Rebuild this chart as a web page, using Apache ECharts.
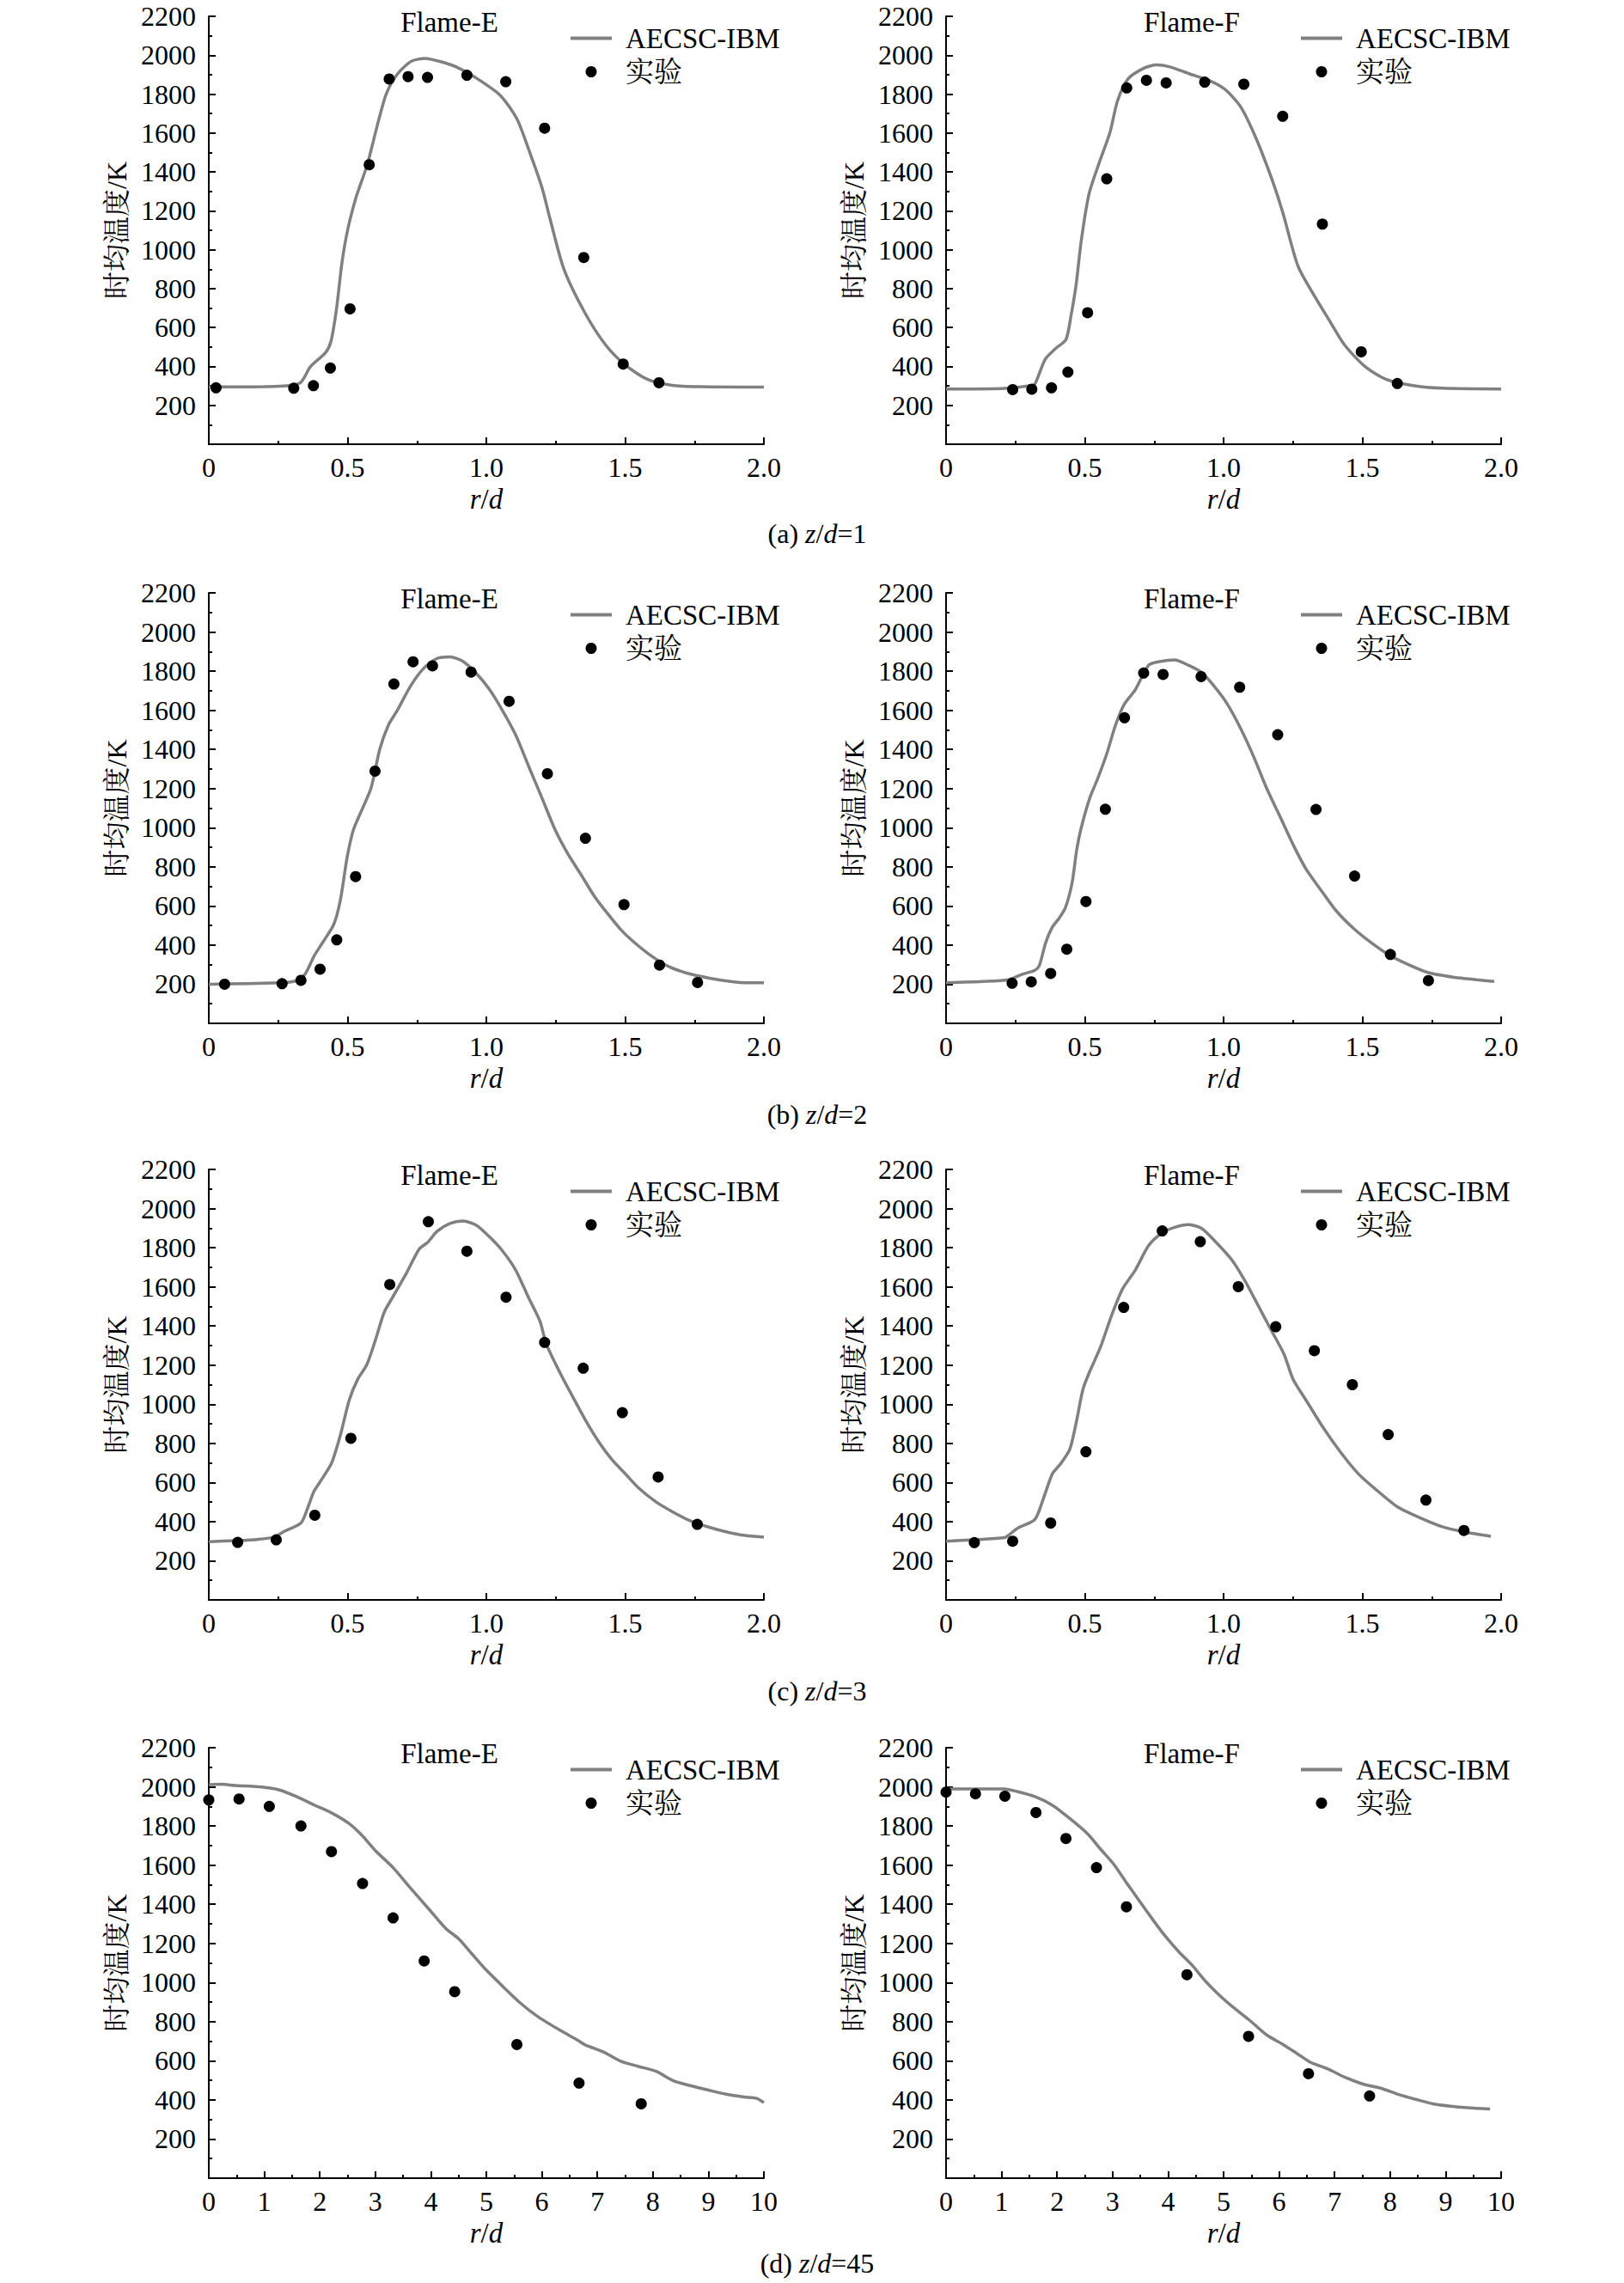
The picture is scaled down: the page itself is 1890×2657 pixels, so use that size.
<!DOCTYPE html>
<html>
<head>
<meta charset="utf-8">
<script src="https://cdn.jsdelivr.net/npm/echarts@6/dist/echarts.min.js"></script>
<style>
html,body{margin:0;padding:0;background:#fff}
#main{width:1890px;height:2657px}
</style>
</head>
<body>
<div id="main"></div>
<script>
// (a) z/d=1
var simAE = [[0,295],[0.1,295],[0.2,296],[0.28,300],[0.33,316],[0.367,400],[0.42,470],[0.44,528],[0.46,695],[0.48,935],[0.5,1100],[0.53,1267],[0.57,1433],[0.61,1655],[0.64,1803],[0.68,1904],[0.73,1969],[0.78,1984],[0.83,1969],[0.89,1941],[0.96,1886],[1.05,1794],[1.11,1673],[1.15,1526],[1.2,1322],[1.23,1156],[1.28,898],[1.355,676],[1.43,510],[1.5,408],[1.58,334],[1.67,303],[1.77,296],[2.0,294]];
var expAE = [[0.026,290],[0.306,288],[0.377,301],[0.438,392],[0.509,696],[0.578,1437],[0.65,1878],[0.718,1890],[0.788,1886],[0.93,1897],[1.07,1864],[1.21,1625],[1.351,960],[1.493,412],[1.622,316]];
var simAF = [[0,284],[0.2,286],[0.3,300],[0.32,310],[0.357,436],[0.394,491],[0.432,538],[0.45,658],[0.469,824],[0.487,1045],[0.515,1286],[0.553,1452],[0.59,1600],[0.618,1766],[0.655,1877],[0.711,1932],[0.757,1950],[0.804,1941],[0.878,1904],[0.953,1867],[1.008,1821],[1.064,1729],[1.12,1563],[1.175,1359],[1.213,1193],[1.268,916],[1.325,768],[1.38,639],[1.436,510],[1.51,399],[1.585,334],[1.678,303],[1.79,288],[2.0,284]];
var expAF = [[0.24,281],[0.309,283],[0.38,290],[0.439,371],[0.51,676],[0.579,1365],[0.651,1832],[0.722,1871],[0.793,1858],[0.932,1862],[1.073,1851],[1.213,1686],[1.356,1132],[1.496,475],[1.626,312]];
// (b) z/d=2
var simBE = [[0,200],[0.253,207],[0.316,218],[0.348,254],[0.379,343],[0.411,415],[0.45,505],[0.474,630],[0.498,845],[0.521,989],[0.553,1096],[0.585,1204],[0.616,1401],[0.648,1527],[0.679,1599],[0.727,1724],[0.774,1814],[0.821,1864],[0.869,1873],[0.916,1850],[0.964,1788],[1.011,1707],[1.058,1599],[1.106,1473],[1.153,1312],[1.201,1150],[1.248,989],[1.295,863],[1.343,756],[1.39,648],[1.438,559],[1.485,478],[1.532,415],[1.596,343],[1.659,289],[1.722,257],[1.801,232],[1.88,214],[1.943,207],[2.0,207]];
var expBE = [[0.057,200],[0.264,203],[0.332,220],[0.401,277],[0.461,427],[0.529,750],[0.599,1289],[0.667,1734],[0.736,1848],[0.806,1827],[0.945,1795],[1.082,1646],[1.22,1276],[1.357,946],[1.496,607],[1.624,298],[1.761,209]];
var simBF = [[0,208],[0.131,214],[0.225,223],[0.273,250],[0.32,271],[0.336,295],[0.359,412],[0.383,492],[0.407,537],[0.43,591],[0.454,717],[0.47,879],[0.485,987],[0.517,1148],[0.548,1256],[0.58,1382],[0.611,1526],[0.643,1633],[0.682,1705],[0.73,1831],[0.769,1849],[0.824,1858],[0.872,1831],[0.919,1795],[0.966,1723],[1.013,1633],[1.061,1508],[1.108,1364],[1.155,1202],[1.203,1058],[1.25,915],[1.297,789],[1.36,663],[1.407,573],[1.47,483],[1.533,411],[1.597,349],[1.66,304],[1.738,259],[1.833,235],[1.912,223],[1.975,214]];
var expBF = [[0.238,205],[0.307,212],[0.377,255],[0.435,379],[0.504,623],[0.574,1094],[0.643,1562],[0.712,1790],[0.782,1783],[0.919,1772],[1.058,1718],[1.195,1475],[1.333,1093],[1.472,753],[1.601,352],[1.738,219]];
// (c) z/d=3
var simCE = [[0,298],[0.095,303],[0.174,309],[0.237,321],[0.269,348],[0.332,393],[0.355,465],[0.379,555],[0.403,608],[0.442,698],[0.474,842],[0.506,1021],[0.537,1129],[0.569,1201],[0.6,1326],[0.632,1470],[0.664,1551],[0.711,1667],[0.758,1793],[0.79,1829],[0.822,1883],[0.869,1924],[0.916,1936],[0.964,1915],[1.011,1856],[1.058,1784],[1.106,1685],[1.153,1542],[1.193,1425],[1.216,1308],[1.264,1165],[1.311,1039],[1.359,914],[1.406,806],[1.453,716],[1.501,644],[1.548,573],[1.611,501],[1.675,447],[1.738,402],[1.801,372],[1.864,348],[1.927,330],[2.0,321]];
var expCE = [[0.104,294],[0.243,307],[0.382,433],[0.512,826],[0.652,1612],[0.791,1933],[0.93,1782],[1.071,1547],[1.21,1316],[1.349,1184],[1.49,957],[1.619,628],[1.76,386]];
var simCF = [[0,300],[0.099,307],[0.21,318],[0.225,330],[0.257,366],[0.32,411],[0.351,519],[0.383,644],[0.414,698],[0.446,770],[0.47,913],[0.493,1075],[0.517,1165],[0.556,1290],[0.596,1452],[0.635,1587],[0.682,1686],[0.73,1811],[0.777,1874],[0.824,1904],[0.872,1918],[0.919,1900],[0.966,1838],[1.029,1739],[1.077,1631],[1.124,1506],[1.171,1380],[1.218,1255],[1.25,1129],[1.297,1021],[1.36,878],[1.423,752],[1.486,644],[1.549,564],[1.628,474],[1.707,420],[1.786,375],[1.864,348],[1.963,325]];
var expCF = [[0.102,293],[0.24,300],[0.377,393],[0.504,757],[0.64,1495],[0.779,1886],[0.916,1831],[1.053,1601],[1.188,1396],[1.327,1274],[1.464,1100],[1.593,845],[1.729,510],[1.866,355]];
// (d) z/d=45
var simDE = [[0,2011],[0.24,2013],[0.47,2007],[0.95,1999],[1.26,1985],[1.58,1950],[1.9,1907],[2.21,1867],[2.53,1812],[2.76,1752],[3.0,1674],[3.32,1587],[3.63,1484],[3.95,1380],[4.27,1276],[4.5,1224],[4.74,1146],[4.98,1069],[5.29,982],[5.61,896],[5.92,827],[6.32,757],[6.64,706],[6.79,680],[7.11,645],[7.42,598],[7.74,571],[8.06,546],[8.37,498],[8.69,472],[9.0,450],[9.32,429],[9.64,415],[9.87,408],[10,386]];
var expDE = [[0,1933],[0.545,1938],[1.09,1900],[1.66,1800],[2.21,1669],[2.77,1506],[3.32,1330],[3.88,1110],[4.43,953],[5.55,683],[6.67,486],[7.79,380]];
var simDF = [[0,1989],[0.5,1989],[1.05,1989],[1.28,1976],[1.6,1950],[1.91,1907],[2.23,1838],[2.55,1760],[2.78,1683],[3.02,1605],[3.25,1510],[3.49,1414],[3.73,1319],[3.96,1233],[4.2,1155],[4.44,1086],[4.67,1008],[4.91,939],[5.15,879],[5.46,809],[5.78,731],[6.09,680],[6.33,636],[6.56,593],[6.88,558],[7.19,515],[7.51,481],[7.83,460],[8.14,429],[8.46,403],[8.77,380],[9.09,368],[9.4,360],[9.8,353]];
var expDF = [[0,1973],[0.53,1964],[1.06,1952],[1.62,1869],[2.16,1736],[2.71,1587],[3.25,1387],[4.34,1040],[5.45,725],[6.53,534],[7.63,420]];

var captions = ['(a) {i|z}/{i|d}=1', '(b) {i|z}/{i|d}=2', '(c) {i|z}/{i|d}=3', '(d) {i|z}/{i|d}=45'];
var flames = ['Flame-E', 'Flame-F'];
var xMax = [2, 2, 2, 10];
var xStep = [0.5, 0.5, 0.5, 1];
var simData = [[simAE, simAF], [simBE, simBF], [simCE, simCF], [simDE, simDF]];
var expData = [[expAE, expAF], [expBE, expBF], [expCE, expCF], [expDE, expDF]];
var yName = '时均温度/K';
var simName = 'AECSC-IBM';
var expName = '实验';

var serif = "'Liberation Serif','Times New Roman',serif";
var cjk = "'Liberation Serif','Noto Serif CJK SC','Noto Sans CJK SC',serif";
var gridLeft = [243, 1101];
var gridTop = [19, 690, 1361, 2034];
var gridW = 646, gridH = 501;
var captionGap = [104, 106, 106, 99];
var legendOff = [421, 413];
var titleOff = [280, 286];
var lineGray = '#808080';

var option = {
	backgroundColor: '#fff',
	animation: false,
	title: [],
	legend: [],
	grid: [],
	xAxis: [],
	yAxis: [],
	series: []
};

function tickStyle() {
	return { color: '#000', width: 2 };
}

for (var r = 0; r < 4; r++) {
	var gh = r === 0 ? gridH - 3 : gridH;
	for (var c = 0; c < 2; c++) {
		var i = r * 2 + c;
		var gl = gridLeft[c], gt = gridTop[r];
		option.grid.push({ left: gl, top: gt, width: gridW, height: gh, containLabel: false });
		(function (row) {
			option.xAxis.push({
				gridIndex: i, type: 'value', min: 0, max: xMax[row], interval: xStep[row],
				axisLine: { show: true, onZero: false, lineStyle: tickStyle() },
				axisTick: { show: true, inside: true, length: 8, lineStyle: tickStyle() },
				minorTick: { show: true, splitNumber: 2, length: 4, lineStyle: tickStyle() },
				splitLine: { show: false },
				minorSplitLine: { show: false },
				axisLabel: {
					fontSize: 32, lineHeight: 26, fontFamily: serif, color: '#000', margin: 14,
					formatter: function (v) {
						if (row < 3) return v === 0 ? '0' : v.toFixed(1);
						return String(v);
					}
				},
				name: '{i|r}/{i|d}', nameLocation: 'middle', nameGap: 50,
				nameTextStyle: {
					fontSize: 33, lineHeight: 28, fontFamily: serif, color: '#000',
					rich: { i: { fontSize: 33, lineHeight: 28, fontFamily: serif, fontStyle: 'italic', color: '#000' } }
				}
			});
		})(r);
		option.yAxis.push({
			gridIndex: i, type: 'value', min: 0, max: 2200, interval: 200,
			axisLine: { show: true, onZero: false, lineStyle: tickStyle() },
			axisTick: { show: true, inside: true, length: 8, lineStyle: tickStyle() },
			minorTick: { show: true, splitNumber: 2, length: 4, lineStyle: tickStyle() },
			splitLine: { show: false },
			minorSplitLine: { show: false },
			axisLabel: {
				fontSize: 32, lineHeight: 26, fontFamily: serif, color: '#000', margin: 15,
				formatter: function (v) { return v === 0 ? '' : String(v); }
			},
			name: yName, nameLocation: 'middle', nameGap: 92,
			nameTextStyle: { fontSize: 32, lineHeight: 30, fontFamily: cjk, color: '#000' }
		});
		option.series.push({
			name: simName, type: 'line', xAxisIndex: i, yAxisIndex: i,
			data: simData[r][c], symbol: 'none', showSymbol: false, smooth: 0.25,
			color: lineGray, lineStyle: { color: lineGray, width: 3.5 }, z: 2
		});
		option.series.push({
			name: expName, type: 'scatter', xAxisIndex: i, yAxisIndex: i,
			data: expData[r][c], symbol: 'circle', symbolSize: 13,
			itemStyle: { color: '#000', opacity: 1 }, z: 3
		});
		option.legend.push({
			left: gl + legendOff[c], top: gt + 9, orient: 'vertical', padding: 0,
			itemGap: 6, itemWidth: 48, itemHeight: 13, selectedMode: false,
			data: [
				{ name: simName, icon: 'path://M0,0H48V4H0Z' },
				{ name: expName, icon: 'circle' }
			],
			textStyle: { fontSize: 33, fontFamily: cjk, color: '#000', padding: [0, 0, 0, 11] }
		});
		option.title.push({
			text: flames[c], left: gl + titleOff[c], top: gt + 7, padding: 0,
			textAlign: 'center', textVerticalAlign: 'middle',
			textStyle: { fontSize: 33, lineHeight: 28, fontFamily: serif, fontWeight: 'normal', color: '#000' }
		});
	}
	option.title.push({
		text: captions[r], left: 951, top: gridTop[r] + gh + captionGap[r], padding: 0,
		textAlign: 'center', textVerticalAlign: 'middle',
		textStyle: {
			fontSize: 32, lineHeight: 26, fontFamily: serif, fontWeight: 'normal', color: '#000',
			rich: { i: { fontSize: 32, lineHeight: 26, fontFamily: serif, fontStyle: 'italic', color: '#000' } }
		}
	});
}

var chart = echarts.init(document.getElementById('main'), null, { renderer: 'svg' });
chart.setOption(option);
</script>
</body>
</html>
